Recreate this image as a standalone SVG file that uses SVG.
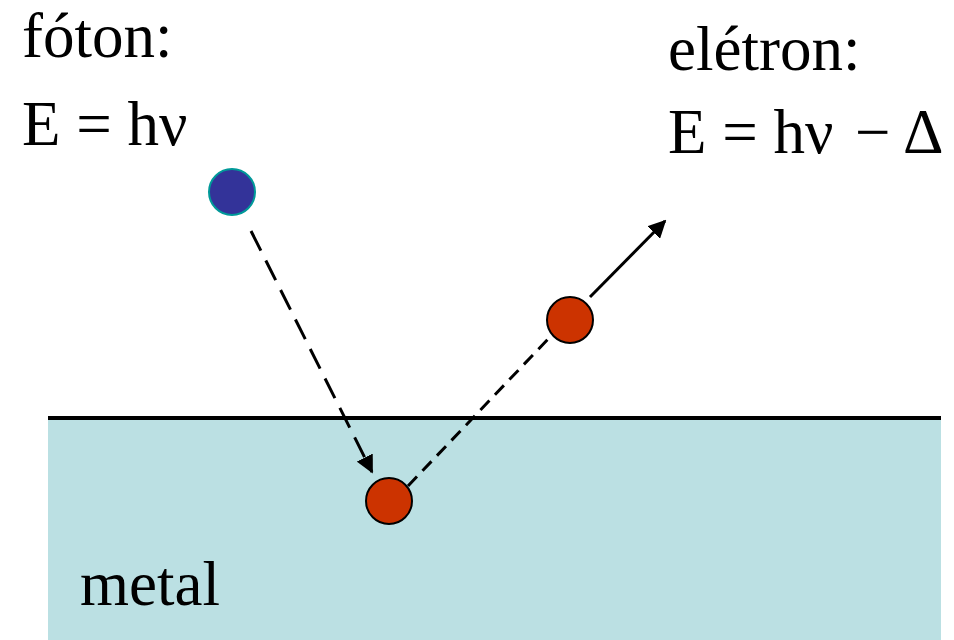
<svg xmlns="http://www.w3.org/2000/svg" width="954" height="640" viewBox="0 0 954 640">
<style>
text{font-family:"Liberation Serif","Times New Roman",serif;font-size:63px;fill:#000}
.e{fill:#CC3300;stroke:#000;stroke-width:2}
</style>
<defs>
<marker id="ah" viewBox="0 0 10 10" refX="9" refY="5" markerWidth="6" markerHeight="6" orient="auto" markerUnits="strokeWidth">
<path d="M0,0L10,5L0,10z" fill="#000"/>
</marker>
</defs>
<rect x="0" y="0" width="954" height="640" fill="#fff"/>
<g id="metal">
<rect x="48" y="418" width="893" height="222" fill="#BBE0E3"/>
<line x1="48" y1="418" x2="941" y2="418" stroke="#000" stroke-width="4"/>
<text x="80" y="605">metal</text>
</g>
<g id="connectors" stroke="#000" fill="none" stroke-width="3">
<line x1="251" y1="231" x2="372" y2="472" stroke-dasharray="22,11" marker-end="url(#ah)"/>
<line x1="408" y1="486" x2="550" y2="337" stroke-dasharray="13,8"/>
<line x1="590" y1="297" x2="665" y2="221" marker-end="url(#ah)"/>
</g>
<g id="photon">
<circle cx="232" cy="192" r="23" fill="#333399" stroke="#009999" stroke-width="2"/>
<text x="22" y="57">fóton:</text>
<text x="22" y="145">E = hν</text>
</g>
<g id="electron-in">
<circle class="e" cx="389" cy="501" r="23"/>
</g>
<g id="electron-out">
<circle class="e" cx="570" cy="320" r="23"/>
<text x="668" y="70">elétron:</text>
<text x="668" y="153">E = hν <tspan x="855">−</tspan> <tspan x="903">Δ</tspan></text>
</g>
</svg>
